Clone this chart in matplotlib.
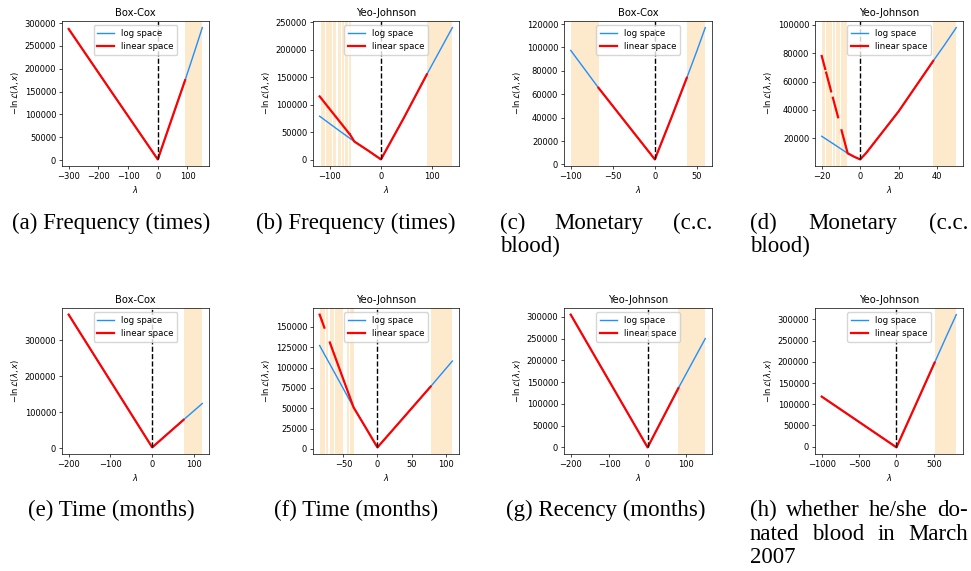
import numpy as np
import matplotlib
matplotlib.use("Agg")
import matplotlib.pyplot as plt

nan = np.nan

# ---- panel info ----
methods = ["Box-Cox", "Yeo-Johnson", "Box-Cox", "Yeo-Johnson",
           "Box-Cox", "Yeo-Johnson", "Yeo-Johnson", "Yeo-Johnson"]
captions = [
    ["(a) Frequency (times)"],
    ["(b) Frequency (times)"],
    ["(c) Monetary (c.c.", "blood)"],
    ["(d) Monetary (c.c.", "blood)"],
    ["(e) Time (months)"],
    ["(f) Time (months)"],
    ["(g) Recency (months)"],
    ["(h) whether he/she do-", "nated blood in March", "2007"],
]

# ---- negative log-likelihood curves ----
# (a) Box-Cox, Frequency
lam_log_a = [-300, -150, -4, 0, 4, 50, 92, 120, 150]
nll_log_a = [287000, 144000, 5600, 1800, 9300, 96000, 175000, 230000, 290000]
lam_lin_a = [-300, -150, -4, 0, 4, 50, 92]
nll_lin_a = [287000, 144000, 5600, 1800, 9300, 96000, 175000]
spans_a = [(92, 150)]

# (b) Yeo-Johnson, Frequency
lam_log_b = [-120, -85, -52, -25, -3, 0, 3, 45, 90, 140]
nll_log_b = [79000, 55000, 33000, 16500, 2500, 500, 5300, 76000, 155000, 240000]
lam_lin_b = [-120, -104, nan, -101.5, -90, nan, -87.5, -76, nan, -73.5, -62, nan,
             -60, -57, -52, -25, -3, 0, 3, 45, 90]
nll_lin_b = [115000, 96300, nan, 93400, 80000, nan, 77100, 63700, nan, 60800, 47300, nan,
             45000, 40500, 33000, 16500, 2500, 500, 5300, 76000, 155000]
spans_b = [(-117, -109), (-107, -96), (-94, -87), (-85, -79), (-77, -73),
           (-71, -65), (-63, -59), (91, 140)]

# (c) Box-Cox, Monetary
lam_log_c = [-100, -67, -30, -4, 0, 4, 20, 38, 50, 60]
nll_log_c = [97500, 65500, 31700, 8000, 4300, 11500, 40500, 74000, 97000, 117000]
lam_lin_c = [-67, -30, -4, 0, 4, 20, 38]
nll_lin_c = [65500, 31700, 8000, 4300, 11500, 40500, 74000]
spans_c = [(-100, -66), (38, 60)]

# (d) Yeo-Johnson, Monetary
lam_log_d = [-20, -13, -6.5, -3, 0, 3, 20, 38, 44, 50]
nll_log_d = [21500, 15300, 9500, 7000, 5200, 9500, 39000, 74500, 86000, 98000]
lam_lin_d = [-20, -18.2, nan, -17.7, -15.1, nan, -14.2, -11.5, nan, -9.7,
             -6.5, -3, 0, 3, 20, 38]
nll_lin_d = [78000, 68900, nan, 66300, 53100, nan, 48600, 34900, nan, 25700,
             9500, 7000, 5200, 9500, 39000, 74500]
spans_d = [(-20, -18.5), (-18, -16.4), (-16, -14.8), (-14.3, -12.9),
           (-12.4, -10.6), (-10.2, -7), (38, 50)]

# (e) Box-Cox, Time
lam_log_e = [-200, -100, -3, 0, 3, 40, 75, 100, 120]
nll_log_e = [371000, 186500, 7500, 2000, 5000, 42800, 78500, 103800, 124000]
lam_lin_e = [-200, -100, -3, 0, 3, 40, 75]
nll_lin_e = [371000, 186500, 7500, 2000, 5000, 42800, 78500]
spans_e = [(75, 120)]

# (f) Yeo-Johnson, Time
lam_log_f = [-85, -60, -35, -15, -3, 0, 3, 40, 78, 95, 110]
nll_log_f = [127000, 89000, 50900, 23000, 6000, 2000, 4900, 40200, 76600, 93300, 108000]
lam_lin_f = [-85, -82.5, nan, -81.5, -78, nan, -70, -50, -35, -15, -3, 0, 3, 40, 78]
nll_lin_f = [165000, 159300, nan, 157000, 149000, nan, 130800, 85100, 50900,
             23000, 6000, 2000, 4900, 40200, 76600]
spans_f = [(-85, -77), (-76, -72), (-70, -63.5), (-62, -50), (-45.5, -42),
           (-41, -35), (78, 110)]

# (g) Yeo-Johnson, Recency
lam_log_g = [-200, -100, -3, 0, 3, 40, 80, 115, 150]
nll_log_g = [305000, 152500, 4500, 0, 5100, 68000, 136000, 193000, 250000]
lam_lin_g = [-200, -100, -3, 0, 3, 40, 80]
nll_lin_g = [305000, 152500, 4500, 0, 5100, 68000, 136000]
spans_g = [(80, 150)]

# (h) Yeo-Johnson, donated in March 2007
lam_log_h = [-1000, -500, -20, 0, 20, 250, 510, 650, 800]
nll_log_h = [118000, 58300, 900, -1500, 6300, 96000, 198000, 253000, 311000]
lam_lin_h = [-1000, -500, -20, 0, 20, 250, 510]
nll_lin_h = [118000, 58300, 900, -1500, 6300, 96000, 198000]
spans_h = [(510, 800)]

panels = [
    (lam_log_a, nll_log_a, lam_lin_a, nll_lin_a, spans_a),
    (lam_log_b, nll_log_b, lam_lin_b, nll_lin_b, spans_b),
    (lam_log_c, nll_log_c, lam_lin_c, nll_lin_c, spans_c),
    (lam_log_d, nll_log_d, lam_lin_d, nll_lin_d, spans_d),
    (lam_log_e, nll_log_e, lam_lin_e, nll_lin_e, spans_e),
    (lam_log_f, nll_log_f, lam_lin_f, nll_lin_f, spans_f),
    (lam_log_g, nll_log_g, lam_lin_g, nll_lin_g, spans_g),
    (lam_log_h, nll_log_h, lam_lin_h, nll_lin_h, spans_h),
]

# ---- layout (pixels) ----
W, H = 971, 571
col_axes = [(62, 209), (313, 459), (564, 712), (815, 963)]
row_axes = [(21, 166), (308, 454)]
col_caps = [(8, 215), (250, 462), (500, 712), (750, 968)]
row_base = [229, 516]
line_step = 23.5

plt.rcParams.update({
    "font.size": 6,
    "axes.linewidth": 0.5,
    "xtick.major.size": 2.1, "ytick.major.size": 2.1,
    "xtick.major.width": 0.5, "ytick.major.width": 0.5,
    "xtick.major.pad": 2.1, "ytick.major.pad": 2.1,
    "axes.labelpad": 2.4,
    "axes.titlepad": 3.6,
    "legend.fontsize": 6.2,
})

fig = plt.figure(figsize=(W / 100, H / 100), dpi=100)

for i, (ll, nl, lr, nr, spans) in enumerate(panels):
    r, c = divmod(i, 4)
    x0, x1 = col_axes[c]
    y0, y1 = row_axes[r]
    ax = fig.add_axes([x0 / W, 1 - y1 / H, (x1 - x0) / W, (y1 - y0) / H])
    for lo, hi in spans:
        ax.axvspan(lo, hi, color="#fde9cc", lw=0, zorder=0)
    ax.plot(ll, nl, color="dodgerblue", lw=1.0, label="log space", zorder=2)
    ax.plot(lr, nr, color="red", lw=1.6, label="linear space", zorder=3)
    ax.autoscale_view()
    ylim = ax.get_ylim()
    ax.vlines(0, np.nanmin(nl), ylim[1], colors="black", linestyles="--", lw=1.0, zorder=4)
    ax.set_ylim(ylim)
    ax.set_title(methods[i], fontsize=7.2)
    ax.set_xlabel(r"$\lambda$")
    ax.set_ylabel(r"$-\ln\mathcal{L}(\lambda, x)$")
    ax.legend(loc="upper center")

# ---- sub-captions, justified like the LaTeX source ----
renderer = fig.canvas.get_renderer()
cap_kw = dict(family="Liberation Serif", fontsize=16.5, va="baseline")
for i, lines in enumerate(captions):
    r, c = divmod(i, 4)
    left, right = col_caps[c]
    for k, line in enumerate(lines):
        y = 1 - (row_base[r] + k * line_step) / H
        if len(lines) == 1:
            fig.text((left + right) / 2 / W, y, line, ha="center", **cap_kw)
        elif k == len(lines) - 1:
            fig.text(left / W, y, line, ha="left", **cap_kw)
        else:
            words = line.split(" ")
            ts = [fig.text(0, y, w, ha="left", **cap_kw) for w in words]
            widths = [t.get_window_extent(renderer).width for t in ts]
            gap = (right - left - sum(widths)) / (len(words) - 1)
            x = left
            for t, w in zip(ts, widths):
                t.set_x(x / W)
                x += w + gap

fig.savefig("out.png", dpi=100)
